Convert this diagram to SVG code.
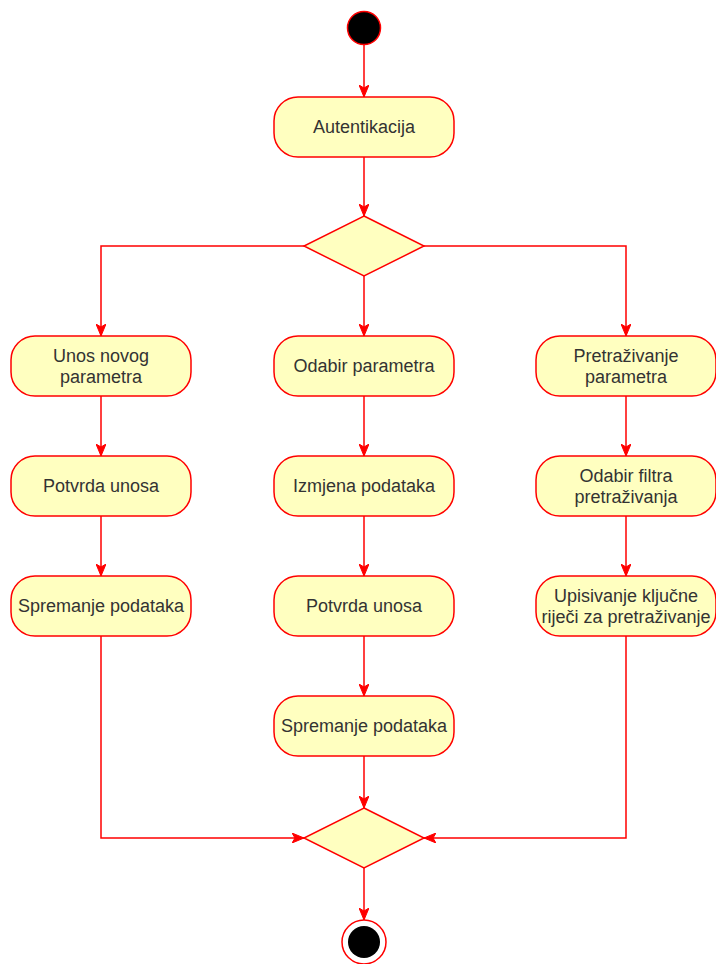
<svg xmlns="http://www.w3.org/2000/svg" width="716" height="964" viewBox="0 0 716 964">
<style>
.node{fill:#FFFFC0;stroke:#FF0000;stroke-width:1.5}
.lbl{font-family:"Liberation Sans",Arial,sans-serif;font-size:18px;fill:#333333;text-anchor:middle}
.edge{fill:none;stroke:#FF0000;stroke-width:1.5}
</style>
<defs>
<marker id="arr" viewBox="0 0 12 10" refX="12" refY="5" markerWidth="12" markerHeight="10" markerUnits="userSpaceOnUse" orient="auto">
<path d="M0,0 L12,5 L0,10 L3,5 Z" fill="#FF0000" stroke="#FF0000" stroke-width="1"/>
</marker>
</defs>
<rect width="716" height="964" fill="#FFFFFF"/>
<g id="connectors">
<path class="edge" d="M364,45 L364,97" marker-end="url(#arr)"/>
<path class="edge" d="M364,157 L364,216" marker-end="url(#arr)"/>
<path class="edge" d="M304,246 L101,246 L101,336" marker-end="url(#arr)"/>
<path class="edge" d="M364,276 L364,336" marker-end="url(#arr)"/>
<path class="edge" d="M424,246 L626,246 L626,336" marker-end="url(#arr)"/>
<path class="edge" d="M101,396 L101,456" marker-end="url(#arr)"/>
<path class="edge" d="M101,516 L101,576" marker-end="url(#arr)"/>
<path class="edge" d="M364,396 L364,456" marker-end="url(#arr)"/>
<path class="edge" d="M364,516 L364,576" marker-end="url(#arr)"/>
<path class="edge" d="M364,636 L364,696" marker-end="url(#arr)"/>
<path class="edge" d="M626,396 L626,456" marker-end="url(#arr)"/>
<path class="edge" d="M626,516 L626,576" marker-end="url(#arr)"/>
<path class="edge" d="M364,756 L364,808" marker-end="url(#arr)"/>
<path class="edge" d="M101,636 L101,838 L304,838" marker-end="url(#arr)"/>
<path class="edge" d="M626,636 L626,838 L424,838" marker-end="url(#arr)"/>
<path class="edge" d="M364,868 L364,920" marker-end="url(#arr)"/>
</g>
<g id="start"><circle cx="364" cy="28" r="16.5" fill="#000000" stroke="#FF0000" stroke-width="1.5"/></g>
<g id="autentikacija"><rect class="node" x="274" y="97" width="180" height="60" rx="24"/><text class="lbl" x="364" y="133">Autentikacija</text></g>
<g id="decision1"><polygon class="node" points="364,216 424,246 364,276 304,246"/></g>
<g id="unos"><rect class="node" x="11" y="336" width="180" height="60" rx="24"/><text class="lbl" x="101" y="361.5">Unos novog</text><text class="lbl" x="101" y="383">parametra</text></g>
<g id="odabir"><rect class="node" x="274" y="336" width="180" height="60" rx="24"/><text class="lbl" x="364" y="372">Odabir parametra</text></g>
<g id="pretrazivanje"><rect class="node" x="536" y="336" width="180" height="60" rx="24"/><text class="lbl" x="626" y="361.5">Pretraživanje</text><text class="lbl" x="626" y="383">parametra</text></g>
<g id="potvrda1"><rect class="node" x="11" y="456" width="180" height="60" rx="24"/><text class="lbl" x="101" y="492">Potvrda unosa</text></g>
<g id="izmjena"><rect class="node" x="274" y="456" width="180" height="60" rx="24"/><text class="lbl" x="364" y="492">Izmjena podataka</text></g>
<g id="filtar"><rect class="node" x="536" y="456" width="180" height="60" rx="24"/><text class="lbl" x="626" y="481.5">Odabir filtra</text><text class="lbl" x="626" y="503">pretraživanja</text></g>
<g id="spremanje1"><rect class="node" x="11" y="576" width="180" height="60" rx="24"/><text class="lbl" x="101" y="612">Spremanje podataka</text></g>
<g id="potvrda2"><rect class="node" x="274" y="576" width="180" height="60" rx="24"/><text class="lbl" x="364" y="612">Potvrda unosa</text></g>
<g id="upisivanje"><rect class="node" x="536" y="576" width="180" height="60" rx="24"/><text class="lbl" x="626" y="601.5">Upisivanje ključne</text><text class="lbl" x="626" y="623">riječi za pretraživanje</text></g>
<g id="spremanje2"><rect class="node" x="274" y="696" width="180" height="60" rx="24"/><text class="lbl" x="364" y="732">Spremanje podataka</text></g>
<g id="decision2"><polygon class="node" points="364,808 424,838 364,868 304,838"/></g>
<g id="end"><circle cx="364" cy="942" r="22" fill="#FFFFFF" stroke="#FF0000" stroke-width="1.5"/><circle cx="364" cy="942" r="16" fill="#000000"/></g>
</svg>
